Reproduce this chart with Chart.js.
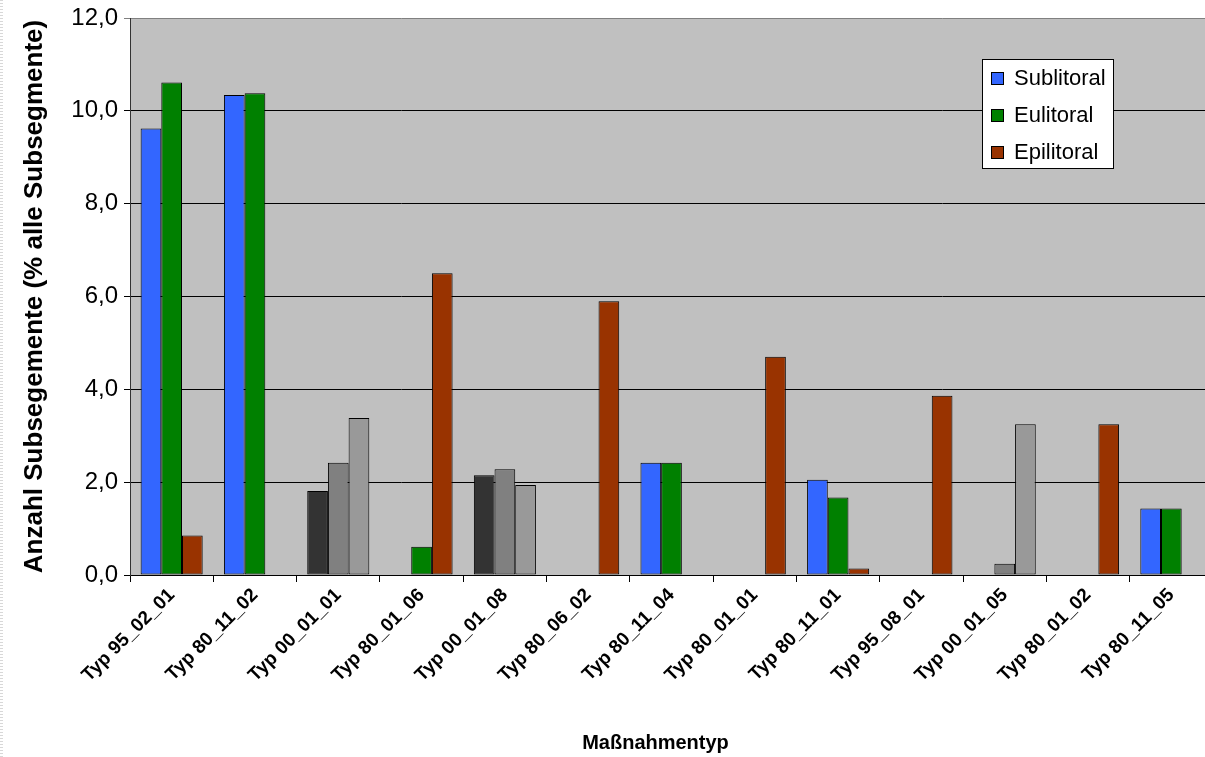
<!DOCTYPE html>
<html lang="de">
<head>
    <meta charset="UTF-8" />
    <title>Maßnahmentyp</title>
    <script src="https://cdn.jsdelivr.net/npm/chart.js"></script>
    <style>
        html, body { margin: 0; padding: 0; background: #fff; overflow: hidden; }
        #rahmen { position: relative; width: 1230px; height: 757px; }
        #rand { position: absolute; left: 0; top: 0; width: 3px; height: 757px;
                background: repeating-linear-gradient(#d8d8d8 0 1px, #fff 1px 3px); }
    </style>
</head>
<body>
    <div id="rahmen">
        <canvas id="grafik" width="1230" height="757"></canvas>
        <div id="rand"></div>
    </div>

<script>
    // Kategorien (x-Achse)
    const kategorien = ['Typ 95_02_01', 'Typ 80_11_02', 'Typ 00_01_01', 'Typ 80_01_06', 'Typ 00_01_08',
        'Typ 80_06_02', 'Typ 80_11_04', 'Typ 80_01_01', 'Typ 80_11_01', 'Typ 95_08_01',
        'Typ 00_01_05', 'Typ 80_01_02', 'Typ 80_11_05'];

    // Werte je Zone (% aller Subsegmente)
    const sublitoral = [9.62, 10.34, 1.81, null, 2.15, null, 2.42, null, 2.05, null, null, null, 1.43];
    const eulitoral = [10.61, 10.38, 2.42, 0.61, 2.28, null, 2.42, null, 1.67, null, 0.24, null, 1.43];
    const epilitoral = [0.85, null, 3.38, 6.5, 1.94, 5.9, null, 4.7, 0.14, 3.86, 3.25, 3.25, null];

    // Kategorien, deren Balken grau dargestellt sind
    const grauKategorien = ['Typ 00_01_01', 'Typ 00_01_08', 'Typ 00_01_05'];

    // y-Achse
    const yMin = 0;
    const yMax = 12;
    const ySchritt = 2;

    const schrift = '"Liberation Sans", Arial, sans-serif';
    const farben = ['#3366ff', '#008000', '#993300'];
    const grautoene = ['#333333', '#808080', '#999999'];

    function datensatz(label, werte, i) {
        return {
            label: label,
            data: werte,
            legendFarbe: farben[i],
            backgroundColor: (c) => grauKategorien.includes(kategorien[c.dataIndex]) ? grautoene[i] : farben[i],
            borderColor: '#000',
            borderWidth: 1,
            borderSkipped: false,
            barPercentage: 1,
            categoryPercentage: 0.745
        };
    }

    // Grauer Plotbereich
    const hintergrund = {
        id: 'hintergrund',
        beforeDraw(chart) {
            const { ctx, chartArea: a } = chart;
            ctx.save();
            ctx.fillStyle = '#c0c0c0';
            ctx.fillRect(a.left, a.top, a.right - a.left, a.bottom - a.top);
            ctx.restore();
        }
    };

    // Legende innerhalb des Plotbereichs und Titel der x-Achse
    const legende = {
        id: 'legende',
        afterDraw(chart) {
            const { ctx, chartArea: a } = chart;
            const x = a.left + 852, y = a.top + 41, b = 131, h = 109;
            ctx.save();
            ctx.fillStyle = '#fff';
            ctx.fillRect(x, y, b, h);
            ctx.strokeStyle = '#000';
            ctx.lineWidth = 1;
            ctx.strokeRect(x + 0.5, y + 0.5, b, h);
            ctx.font = '22px ' + schrift;
            ctx.textBaseline = 'middle';
            chart.data.datasets.forEach((ds, i) => {
                const cy = y + 19 + i * 37;
                ctx.fillStyle = ds.legendFarbe;
                ctx.fillRect(x + 9, cy - 6, 13, 13);
                ctx.strokeRect(x + 9.5, cy - 5.5, 12, 12);
                ctx.fillStyle = '#000';
                ctx.fillText(ds.label, x + 32, cy + 1);
            });

            // x-Achsentitel (im Original etwas links der Mitte)
            ctx.font = 'bold 20px ' + schrift;
            ctx.textAlign = 'center';
            ctx.fillText('Maßnahmentyp', (a.left + a.right) / 2 - 16, chart.height - 14);
            ctx.restore();
        }
    };

    new Chart(document.getElementById('grafik'), {
        type: 'bar',
        data: {
            labels: kategorien,
            datasets: [
                datensatz('Sublitoral', sublitoral, 0),
                datensatz('Eulitoral', eulitoral, 1),
                datensatz('Epilitoral', epilitoral, 2)
            ]
        },
        options: {
            responsive: false,
            animation: false,
            devicePixelRatio: 1,
            layout: { padding: { top: 18, right: 17, left: 0, bottom: 0 } },
            plugins: {
                legend: { display: false },
                tooltip: { enabled: false }
            },
            scales: {
                x: {
                    grid: { drawOnChartArea: false, drawTicks: true, tickLength: 7, color: '#000', offset: true },
                    border: { color: '#000', width: 1 },
                    ticks: {
                        minRotation: 45, maxRotation: 45, autoSkip: false, color: '#000', padding: 2,
                        font: { family: schrift, size: 19, weight: 'bold' }
                    },
                    afterFit(s) { s.height = 182; }
                },
                y: {
                    min: yMin,
                    max: yMax,
                    ticks: {
                        stepSize: ySchritt, color: '#000', padding: 6,
                        font: { family: schrift, size: 24, lineHeight: 1 },
                        callback: (v) => v.toFixed(1).replace('.', ',')
                    },
                    grid: {
                        color: (c) => c.tick && c.tick.value === yMax ? '#808080' : '#000',
                        tickLength: 6
                    },
                    border: { color: '#333' },
                    title: {
                        display: true, text: 'Anzahl Subsegemente (% alle Subsegmente)', color: '#000',
                        padding: { top: 19 },
                        font: { family: schrift, size: 26, weight: 'bold' }
                    },
                    afterFit(s) { s.width = 130; }
                }
            }
        },
        plugins: [hintergrund, legende]
    });
</script>
</body>
</html>
